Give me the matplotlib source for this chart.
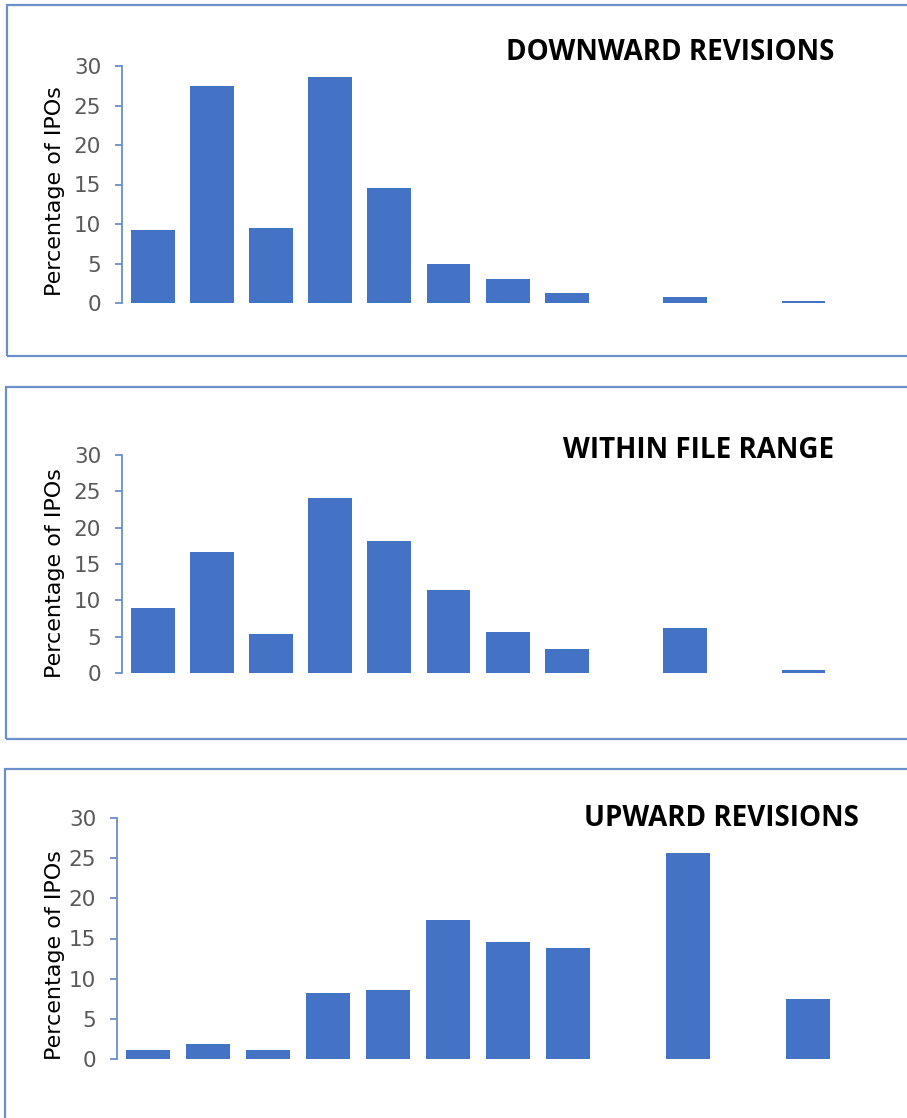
import matplotlib
matplotlib.use("Agg")
import matplotlib.pyplot as plt
from matplotlib.patches import Rectangle

W, H = 907, 1118
DPI = 100

categories = list(range(1, 13))
downward = [9.3, 27.5, 9.5, 28.6, 14.6, 4.9, 3.0, 1.3, 0.0, 0.8, 0.0, 0.3]
within = [8.9, 16.6, 5.4, 24.1, 18.2, 11.4, 5.6, 3.3, 0.0, 6.2, 0.0, 0.4]
upward = [1.1, 1.9, 1.1, 8.2, 8.6, 17.3, 14.6, 13.8, 0.0, 25.7, 0.0, 7.5]
titles = ["DOWNWARD REVISIONS", "WITHIN FILE RANGE", "UPWARD REVISIONS"]
yticks = [0, 5, 10, 15, 20, 25, 30]
ylabel = "Percentage of IPOs"

BAR = "#4472C4"
BORDER = "#6A8FCB"
TICKC = "#595959"

fig = plt.figure(figsize=(W / DPI, H / DPI), dpi=DPI)

def px_rect(x0, y0, x1, y1):
    # pixel box (top-left origin) -> figure fraction [l, b, w, h]
    return [x0 / W, 1 - y1 / H, (x1 - x0) / W, (y1 - y0) / H]

panels = [
    dict(border=(7, 5, 920, 356), ax=(122, 66, 833, 303), title=(834, 53), yl=(55, 191), data=downward),
    dict(border=(6, 387, 920, 739), ax=(122, 455, 833, 673), title=(834, 450), yl=(55, 573), data=within),
    dict(border=(5, 769, 920, 1130), ax=(117, 818, 838, 1059), title=(859, 818), yl=(55, 955), data=upward),
]

for p, title in zip(panels, titles):
    bx0, by0, bx1, by1 = p["border"]
    fig.patches.append(Rectangle((bx0 / W, 1 - by1 / H), (bx1 - bx0) / W, (by1 - by0) / H,
                                 transform=fig.transFigure, fill=False, edgecolor=BORDER,
                                 linewidth=1.6, zorder=0))
    x0, y30, x1, y0 = p["ax"]
    ax = fig.add_axes(px_rect(x0, y30, x1, y0))
    ax.bar(range(len(categories)), p["data"], width=0.74, color=BAR, zorder=2)
    ax.set_xlim(-0.52, len(categories) - 0.5)
    ax.set_ylim(0, 30)
    ax.set_yticks(yticks)
    ax.set_xticks([])
    for s in ["top", "right", "bottom"]:
        ax.spines[s].set_visible(False)
    ax.spines["left"].set_color(BORDER)
    ax.spines["left"].set_linewidth(1.3)
    ax.tick_params(axis="y", colors=BORDER, length=5, width=1.3, pad=10,
                   labelcolor=TICKC, labelsize=15.5)
    for lab in ax.get_yticklabels():
        lab.set_fontfamily(["Liberation Sans Narrow", "DejaVu Sans"])
    ax.patch.set_alpha(0)
    tx, ty = p["title"]
    fig.text(tx / W, 1 - ty / H, title, ha="right", va="center", fontsize=20,
             fontweight="bold", family="Open Sans", color="black")
    lx, ly = p["yl"]
    fig.text(lx / W, 1 - ly / H, ylabel, ha="center", va="center", rotation=90,
             fontsize=16, family="DejaVu Sans", color="black")

fig.savefig("out.png", dpi=DPI)
